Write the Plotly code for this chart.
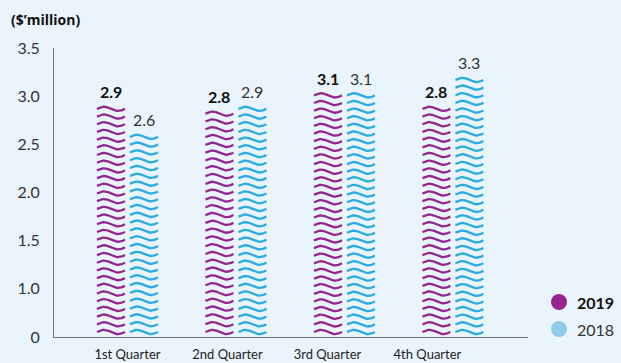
import numpy as np
import plotly.graph_objects as go

# ---------------- data ----------------
quarters = ["1st Quarter", "2nd Quarter", "3rd Quarter", "4th Quarter"]
series_names = ["2019", "2018"]
labels_2019 = ["2.9", "2.8", "3.1", "2.8"]
labels_2018 = ["2.6", "2.9", "3.1", "3.3"]
# bar heights as drawn in the picture ($ million)
values_2019 = [2.89, 2.84, 3.03, 2.89]
values_2018 = [2.60, 2.89, 3.03, 3.19]
y_tick_vals = [0.5, 1.0, 1.5, 2.0, 2.5, 3.0, 3.5]
y_tick_text = ["0", "1.0", "1.5", "2.0", "2.5", "3.0", "3.5"]

# ---------------- style ----------------
W, H = 621, 363
ML, MR, MT, MB = 54, 93, 48, 26
PW, PH = W - ML - MR, H - MT - MB
BG = "#EAF4FC"
PURPLE = "#93278F"
BLUE = "#2AABE2"
LIGHT_BLUE = "#8FCBEB"
FONT = "Lato"
X_RANGE = [-0.677, 3.692]
Y_RANGE = [0.5, 3.5]
BAR_W = 0.258
BAR_OFF = 0.152
LABEL_STEP = 0.9217

px_x = (X_RANGE[1] - X_RANGE[0]) / PW
px_y = (Y_RANGE[1] - Y_RANGE[0]) / PH
AMP = 2.1 * px_y
ROW = 7.75 * px_y
BOTTOM = Y_RANGE[0] + 5 * px_y


def waves(center, top):
    xs, ys = [], []
    t = np.linspace(0, 1, 25)
    y_lo, y_hi = BOTTOM, top - AMP
    n = max(1, int(round((y_hi - y_lo) / ROW)))
    step = (y_hi - y_lo) / n
    for k in range(n + 1):
        yc = y_lo + k * step
        xs += list(center - BAR_W / 2 + t * BAR_W) + [None]
        ys += list(yc + AMP * np.sin(2 * np.pi * t)) + [None]
    return xs, ys


fig = go.Figure()
annotations = []
for s, (vals, labs, col, off, bold) in enumerate([
        (values_2019, labels_2019, PURPLE, -BAR_OFF, True),
        (values_2018, labels_2018, BLUE, BAR_OFF, False)]):
    X, Y = [], []
    for i, v in enumerate(vals):
        xs, ys = waves(i + off, v)
        X += xs
        Y += ys
        annotations.append(dict(
            x=i + off, y=v, xref="x", yref="y", yshift=15,
            text=f"<b>{labs[i]}</b>" if bold else labs[i],
            showarrow=False, yanchor="middle",
            font=dict(family=FONT, size=16, color="#111" if bold else "#333")))
    fig.add_trace(go.Scatter(x=X, y=Y, mode="lines", name=series_names[s],
                             line=dict(color=col, width=2.3),
                             showlegend=False, hoverinfo="skip"))

# legend (custom)
def paper_x(p):
    return (p - ML) / PW


def paper_y(p):
    return (H - MB - p) / PH


shapes = []
for name, col, py, bold in [("2019", PURPLE, 302, True), ("2018", LIGHT_BLUE, 329, False)]:
    shapes.append(dict(type="circle", xref="paper", yref="paper",
                       xsizemode="pixel", ysizemode="pixel",
                       xanchor=paper_x(559), yanchor=paper_y(py),
                       x0=-8, x1=8, y0=-8, y1=8,
                       fillcolor=col, line=dict(width=0)))
    annotations.append(dict(x=paper_x(575), y=paper_y(py), xref="paper", yref="paper",
                            text=f"<b>{name}</b>" if bold else name,
                            showarrow=False, xanchor="left", yanchor="middle",
                            font=dict(family=FONT, size=16,
                                      color="#111" if bold else "#333")))

# title
annotations.append(dict(x=paper_x(9), y=paper_y(19), xref="paper", yref="paper",
                        text="<b>($’million)</b>", showarrow=False,
                        xanchor="left", yanchor="middle",
                        font=dict(family="Open Sans", size=14, color="#111")))

fig.update_layout(
    width=W, height=H,
    margin=dict(l=ML, r=MR, t=MT, b=MB, autoexpand=False),
    paper_bgcolor=BG, plot_bgcolor=BG,
    font=dict(family=FONT, color="#333"),
    annotations=annotations, shapes=shapes,
    xaxis=dict(range=X_RANGE, tickmode="array", automargin=False,
               tickvals=[i * LABEL_STEP for i in range(len(quarters))],
               ticktext=quarters, showgrid=False, zeroline=False,
               showline=True, linecolor="#777", linewidth=1,
               ticks="outside", ticklen=5, tickcolor=BG,
               tickfont=dict(family=FONT, size=13, color="#222")),
    yaxis=dict(range=Y_RANGE, tickmode="array", tickvals=y_tick_vals,
               ticktext=y_tick_text, showgrid=False, zeroline=False,
               automargin=False,
               showline=True, linecolor="#777", linewidth=1,
               ticks="outside", ticklen=10, tickcolor=BG,
               tickfont=dict(family=FONT, size=16, color="#333")),
)

fig.write_html("out.html")
